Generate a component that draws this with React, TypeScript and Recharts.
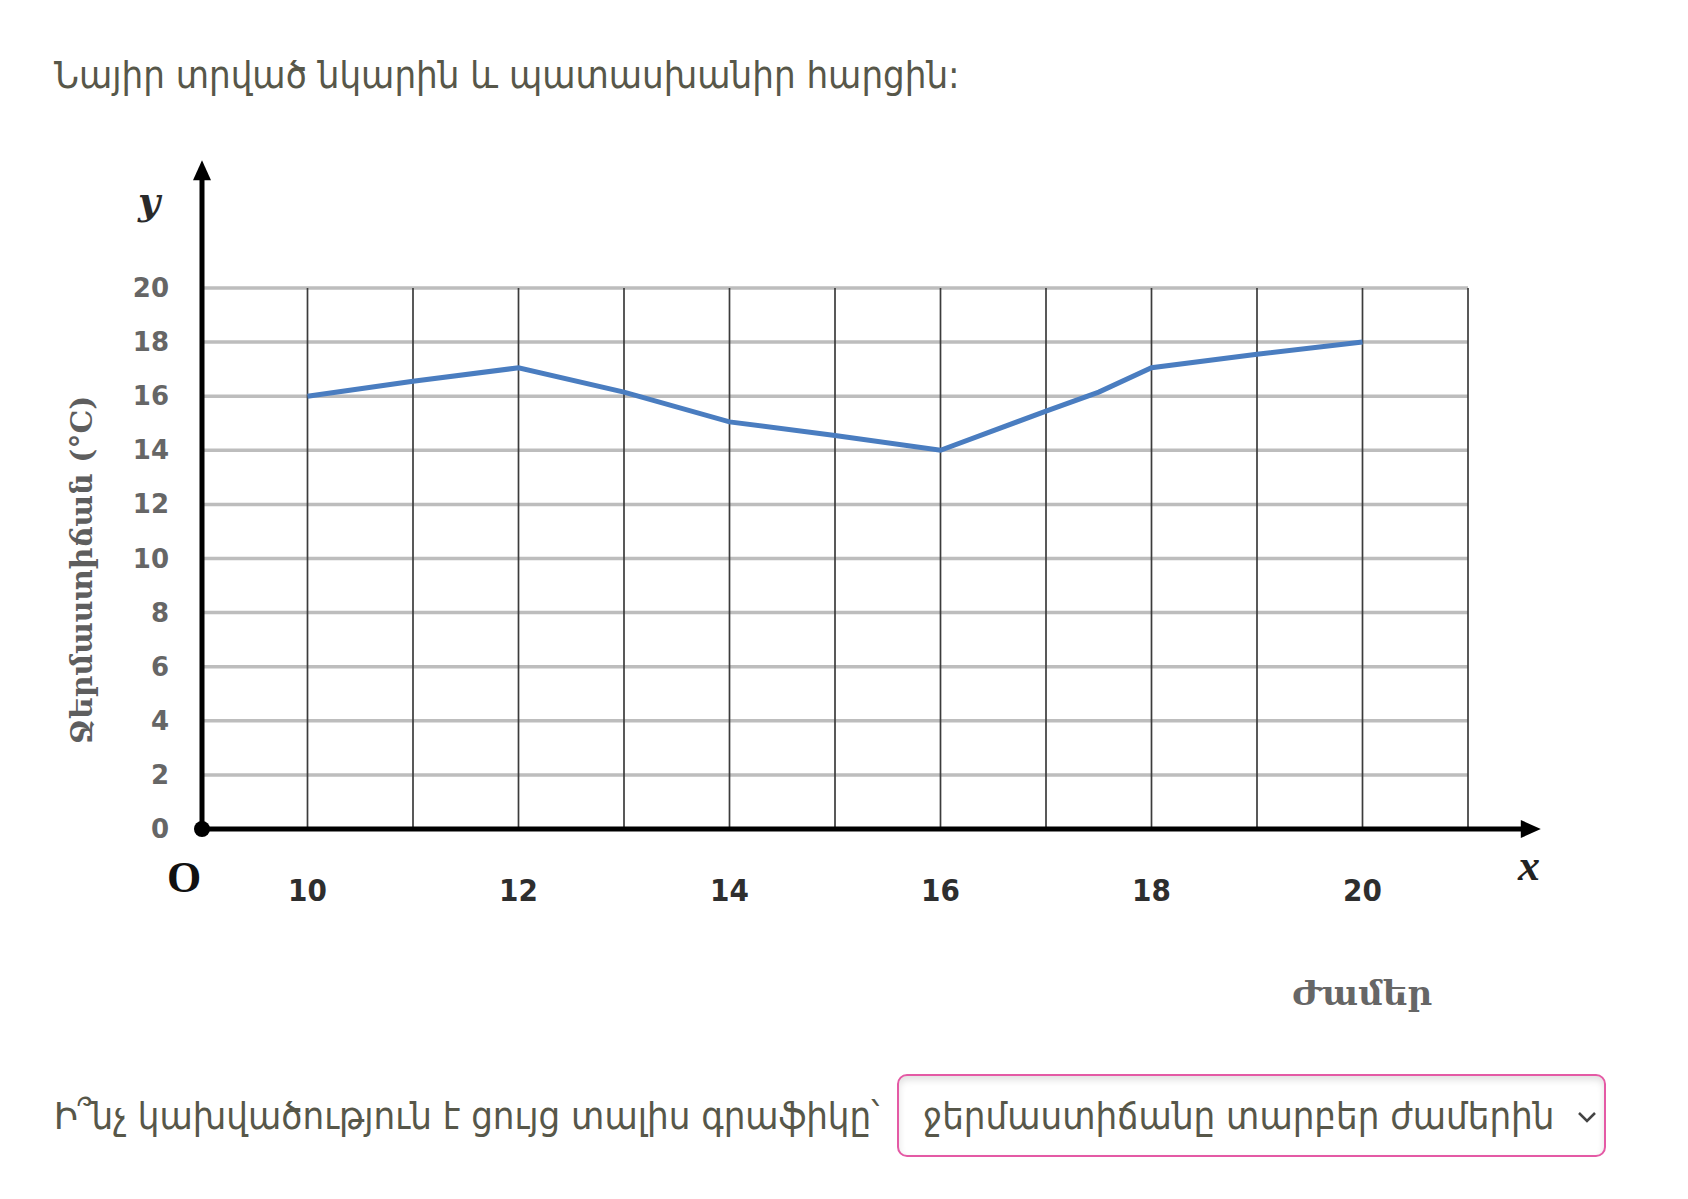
import React from "react";
import {
  LineChart,
  Line,
  XAxis,
  YAxis,
  CartesianGrid,
  ReferenceLine,
  ReferenceDot,
} from "recharts";

if (typeof document !== "undefined") {
  document.body.style.margin = "0";
}

// ---- data ----
const hours = [10, 11, 12, 13, 14, 15, 16, 17, 17.5, 18, 19, 20];
const temperatures = [16, 16.55, 17.05, 16.15, 15.05, 14.55, 14, 15.45, 16.15, 17.05, 17.55, 18];
const xGridTicks = [9, 10, 11, 12, 13, 14, 15, 16, 17, 18, 19, 20, 21];
const xLabelTicks = [10, 12, 14, 16, 18, 20];
const yTicks = [0, 2, 4, 6, 8, 10, 12, 14, 16, 18, 20];

const titleText = "Նայիր տրված նկարին և պատասխանիր հարցին:";
const yAxisTitle = "Ջերմաստիճան (°C)";
const xAxisTitle = "Ժամեր";
const questionText = "Ի՞նչ կախվածություն է ցույց տալիս գրաֆիկը՝";
const answerText = "ջերմաստիճանը տարբեր ժամերին";

const data = hours.map((h, i) => ({ hour: h, temp: temperatures[i] }));

const TEXT_COLOR = "#575749";
const ARM_FONT = "'DejaVu Sans Condensed', 'DejaVu Sans', sans-serif";

const XTick = (props: any) => {
  const v = props.payload?.value;
  if (!xLabelTicks.includes(v)) return <g />;
  return (
    <text
      x={props.x}
      y={890}
      textAnchor="middle"
      dominantBaseline="central"
      fontFamily="'DejaVu Sans Condensed', 'DejaVu Sans', sans-serif"
      fontWeight="bold"
      fontSize={31}
      fill="#2e2e2e"
    >
      {v}
    </text>
  );
};

const YTick = (props: any) => {
  const v = props.payload?.value;
  return (
    <text
      x={169}
      y={props.y}
      textAnchor="end"
      dominantBaseline="central"
      fontFamily="'DejaVu Sans', sans-serif"
      fontWeight="bold"
      fontSize={26}
      fill="#666"
    >
      {v}
    </text>
  );
};

const ArrowLine = (props: any) => {
  const { x1, y1, x2, y2 } = props;
  const dx = x2 - x1;
  const dy = y2 - y1;
  const len = Math.sqrt(dx * dx + dy * dy) || 1;
  const ux = dx / len;
  const uy = dy / len;
  const headLen = 20;
  const headW = 9;
  const bx = x2 - ux * headLen;
  const by = y2 - uy * headLen;
  const px = -uy;
  const py = ux;
  const pts = `${x2},${y2} ${bx + px * headW},${by + py * headW} ${bx - px * headW},${by - py * headW}`;
  return (
    <g>
      <line x1={x1} y1={y1} x2={bx + ux * 2} y2={by + uy * 2} stroke="#000" strokeWidth={5} />
      <polygon points={pts} fill="#000" />
    </g>
  );
};

export default function App() {
  return (
    <div
      style={{
        position: "relative",
        width: 1688,
        height: 1199,
        background: "#fff",
        overflow: "hidden",
      }}
    >
      <div
        style={{
          position: "absolute",
          left: 54,
          top: 51,
          fontFamily: ARM_FONT,
          fontSize: 38,
          color: TEXT_COLOR,
          whiteSpace: "nowrap",
          lineHeight: "48px",
        }}
      >
        {titleText}
      </div>

      <div style={{ position: "absolute", left: 0, top: 0 }}>
        <LineChart
          width={1688}
          height={1060}
          data={data}
          margin={{ top: 288, right: 220, bottom: 201, left: 142 }}
        >
          <CartesianGrid vertical={false} stroke="#bdbdbd" strokeWidth={3.5} />
          <CartesianGrid horizontal={false} stroke="#3c3c3c" strokeWidth={1.7} />
          <XAxis
            dataKey="hour"
            type="number"
            domain={[9, 21]}
            ticks={xGridTicks}
            interval={0}
            axisLine={false}
            tickLine={false}
            tick={<XTick />}
            allowDataOverflow
          />
          <YAxis
            type="number"
            domain={[0, 20]}
            ticks={yTicks}
            interval={0}
            width={60}
            axisLine={false}
            tickLine={false}
            tick={<YTick />}
            allowDataOverflow
          />
          <Line
            type="linear"
            dataKey="temp"
            stroke="#4a7dc0"
            strokeWidth={5}
            dot={false}
            activeDot={false}
            isAnimationActive={false}
          />
          <ReferenceLine
            segment={[
              { x: 9, y: 0 },
              { x: 21.69, y: 0 },
            ]}
            ifOverflow="visible"
            shape={ArrowLine}
          />
          <ReferenceLine
            segment={[
              { x: 9, y: 0 },
              { x: 9, y: 24.72 },
            ]}
            ifOverflow="visible"
            shape={ArrowLine}
          />
          <ReferenceDot x={9} y={0} r={8} fill="#000" stroke="none" ifOverflow="visible" />
        </LineChart>
      </div>

      {/* axis decorations */}
      <div
        style={{
          position: "absolute",
          left: 138,
          top: 178,
          fontFamily: "'DejaVu Serif', 'Liberation Serif', serif",
          fontStyle: "italic",
          fontWeight: "bold",
          fontSize: 38,
          color: "#2a2a2a",
        }}
      >
        y
      </div>
      <div
        style={{
          position: "absolute",
          left: 167,
          top: 852,
          fontFamily: "'Liberation Serif', serif",
          fontWeight: "bold",
          fontSize: 44,
          color: "#111",
        }}
      >
        O
      </div>
      <div
        style={{
          position: "absolute",
          left: 1518,
          top: 840,
          fontFamily: "'Liberation Serif', serif",
          fontStyle: "italic",
          fontWeight: "bold",
          fontSize: 44,
          color: "#222",
        }}
      >
        x
      </div>
      <div
        style={{
          position: "absolute",
          left: 81,
          top: 570,
          transform: "translate(-50%, -50%) rotate(-90deg)",
          fontFamily: "'DejaVu Serif', 'DejaVu Sans', serif",
          fontWeight: "bold",
          fontSize: 30,
          color: "#5e5e5e",
          whiteSpace: "nowrap",
        }}
      >
        {yAxisTitle}
      </div>
      <div
        style={{
          position: "absolute",
          left: 1362,
          top: 993,
          transform: "translate(-50%, -50%)",
          fontFamily: "'DejaVu Serif', 'DejaVu Sans', serif",
          fontWeight: "bold",
          fontSize: 34,
          color: "#666",
          whiteSpace: "nowrap",
        }}
      >
        {xAxisTitle}
      </div>

      {/* question row */}
      <div
        style={{
          position: "absolute",
          left: 54,
          top: 1092,
          fontFamily: ARM_FONT,
          fontSize: 38,
          color: TEXT_COLOR,
          whiteSpace: "nowrap",
          lineHeight: "48px",
        }}
      >
        {questionText}
      </div>
      <div
        style={{
          position: "absolute",
          left: 897,
          top: 1074,
          width: 709,
          height: 83,
          boxSizing: "border-box",
          border: "2px solid #e45aa5",
          borderRadius: 10,
          boxShadow: "inset 0 4px 7px rgba(0,0,0,0.12)",
          background: "#fff",
        }}
      >
        <div
          style={{
            position: "absolute",
            left: 24,
            top: 16,
            fontFamily: ARM_FONT,
            fontSize: 38,
            color: TEXT_COLOR,
            whiteSpace: "nowrap",
            lineHeight: "48px",
          }}
        >
          {answerText}
        </div>
        <svg
          style={{ position: "absolute", left: 677, top: 33 }}
          width={22}
          height={16}
        >
          <polyline points="3,4 11,12 19,4" fill="none" stroke="#444" strokeWidth={2.5} />
        </svg>
      </div>
    </div>
  );
}
